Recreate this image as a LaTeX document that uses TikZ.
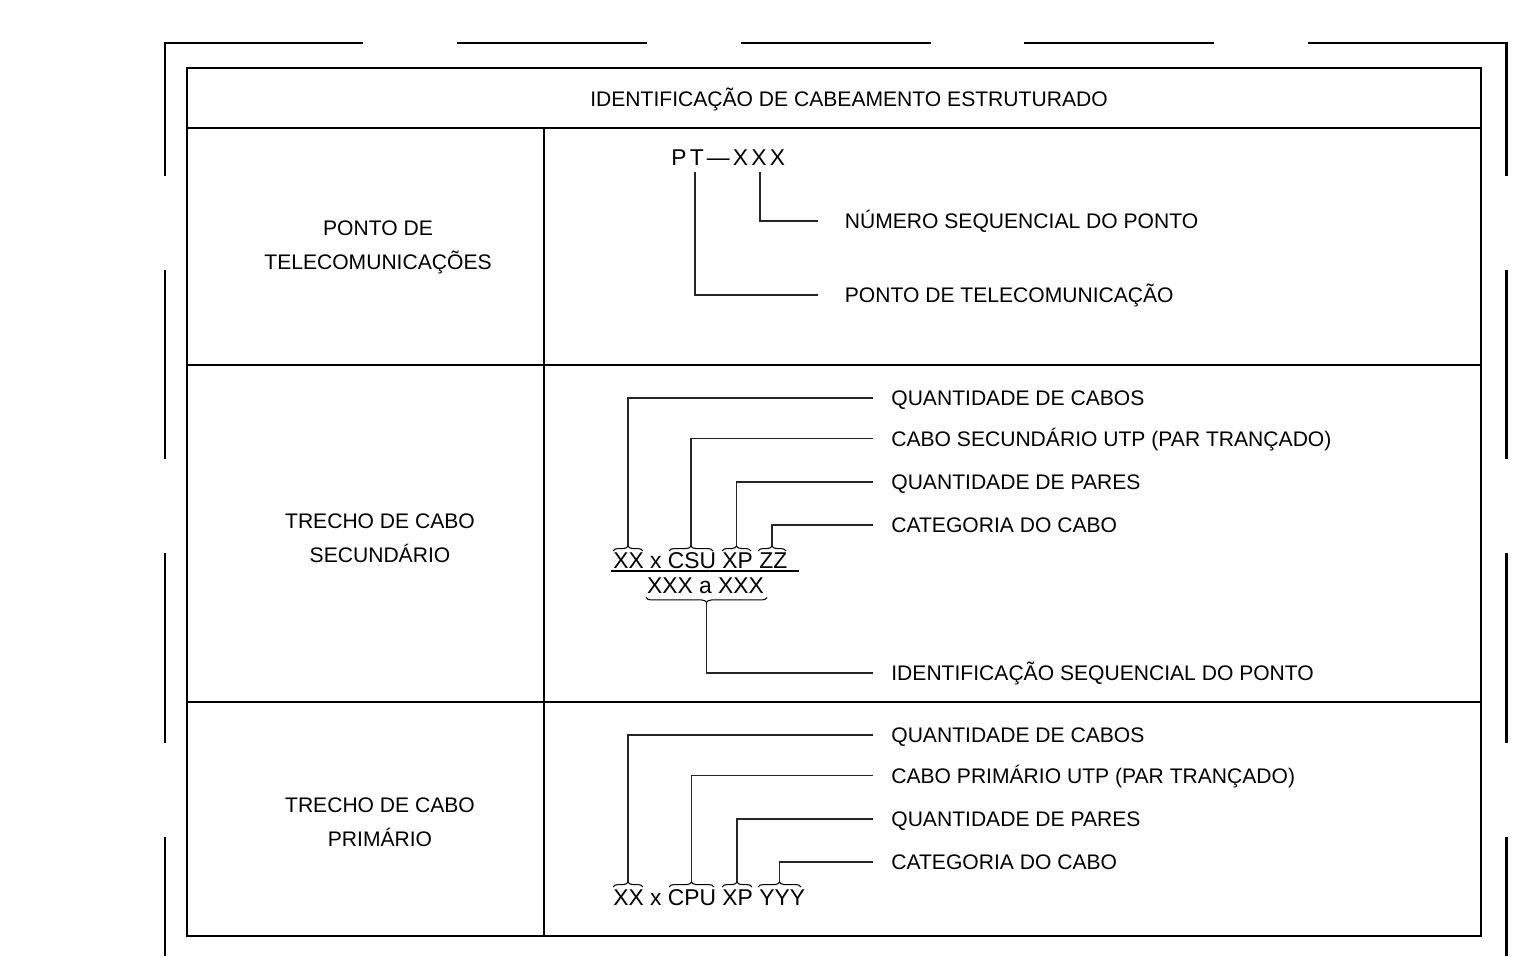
\documentclass[tikz,border=0pt]{standalone}
\usepackage{fontspec}
\setmainfont{Liberation Sans}
\newfontfamily\cadfont[LetterSpace=14]{Liberation Sans}
\usetikzlibrary{decorations.pathreplacing}

\begin{document}
\begin{tikzpicture}[x=0.02cm, y=-0.02cm,
border/.style={line width=1.7pt},
tab/.style={line width=1.1pt},
lead/.style={line width=0.6pt, black!85},
txt/.style={inner sep=0pt, text height=8.6pt, text depth=0pt, font=\fontsize{12}{14}\selectfont},
lbl/.style={txt, anchor=west, inner xsep=0.36cm},
lblpt/.style={txt, anchor=west, inner xsep=0.53cm},
codetxt/.style={inner sep=0pt, anchor=base west, font=\fontsize{13}{15}\selectfont},
grp/.style={decorate, decoration={brace, amplitude=2.8pt}, line width=0.6pt},
peak/.style={coordinate, yshift=2.8pt},
dip/.style={coordinate, yshift=-2.8pt}]
 \useasboundingbox (0,0) rectangle (1537,956);

 \draw[border] (165,176) -- (165,43) -- (363,43);
 \draw[border] (457,43) -- (647,43) (741,43) -- (931,43) (1024,43) -- (1214,43);
 \draw[border] (1308,43) -- (1506,43) -- (1506,176);
 \draw[border] (165,270) -- (165,459) (165,553) -- (165,743) (165,837) -- (165,956);
 \draw[border] (1506,270) -- (1506,459) (1506,553) -- (1506,743) (1506,837) -- (1506,956);

 \draw[tab] (187,68) rectangle (1481,936);
 \draw[tab] (187,128) -- (1481,128);
 \draw[tab] (187,365) -- (1481,365);
 \draw[tab] (187,702) -- (1481,702);
 \draw[tab] (544,128) -- (544,936);

 \node[txt] (title) at (849,99) {IDENTIFICAÇÃO DE CABEAMENTO ESTRUTURADO};

 \node[txt] (pt1) at (378,228) {PONTO DE};
 \node[txt, below of=pt1, node distance=0.68cm] (pt2) {TELECOMUNICAÇÕES};
 \node[txt] (sec1) at (380,521) {TRECHO DE CABO};
 \node[txt, below of=sec1, node distance=0.68cm] (sec2) {SECUNDÁRIO};
 \node[txt] (pri1) at (380,805) {TRECHO DE CABO};
 \node[txt, below of=pri1, node distance=0.68cm] (pri2) {PRIMÁRIO};

 \node[inner sep=0pt, anchor=base west, font=\fontsize{13}{15}\cadfont] (ptcode) at (671,166) {PT—XXX};
 \coordinate (ptP) at (695,172);
 \coordinate (ptX) at (760,172);
 \node[lblpt] (num) at (818,221) {NÚMERO SEQUENCIAL DO PONTO};
 \node[lblpt] (pto) at (818,295) {PONTO DE TELECOMUNICAÇÃO};
 \draw[lead] (ptX) |- (num);
 \draw[lead] (ptP) |- (pto);

 \node[codetxt] (csu) at (613,568) {XX x CSU XP ZZ};
 \draw[line width=1.1pt] (611,571) -- (799,571);
 \node[codetxt, anchor=base] (seq) at (705.5,593) {XXX a XXX};
 \draw[grp] (613,551) -- node[peak] (s1) {} (643,551);
 \draw[grp] (669,551) -- node[peak] (s2) {} (713,551);
 \draw[grp] (722,551) -- node[peak] (s3) {} (751,551);
 \draw[grp] (758,551) -- node[peak] (s4) {} (786,551);
 \draw[grp] (767,597.5) -- node[dip] (s5) {} (646,597.5);
 \node[lbl] (qc2) at (873,398) {QUANTIDADE DE CABOS};
 \node[lbl] (cs2) at (873,438.5) {CABO SECUNDÁRIO UTP (PAR TRANÇADO)};
 \node[lbl] (qp2) at (873,482) {QUANTIDADE DE PARES};
 \node[lbl] (cat2) at (873,525) {CATEGORIA DO CABO};
 \node[lbl] (id2) at (873,673) {IDENTIFICAÇÃO SEQUENCIAL DO PONTO};
 \draw[lead] (s1) |- (qc2);
 \draw[lead] (s2) |- (cs2);
 \draw[lead] (s3) |- (qp2);
 \draw[lead] (s4) |- (cat2);
 \draw[lead] (s5) |- (id2);

 \node[codetxt] (cpu) at (613,905) {XX x CPU XP YYY};
 \draw[grp] (613,887) -- node[peak] (p1) {} (643,887);
 \draw[grp] (669,887) -- node[peak] (p2) {} (714,887);
 \draw[grp] (722,887) -- node[peak] (p3) {} (752,887);
 \draw[grp] (758,887) -- node[peak] (p4) {} (801,887);
 \node[lbl] (qc3) at (873,735) {QUANTIDADE DE CABOS};
 \node[lbl] (cp3) at (873,775.5) {CABO PRIMÁRIO UTP (PAR TRANÇADO)};
 \node[lbl] (qp3) at (873,819) {QUANTIDADE DE PARES};
 \node[lbl] (cat3) at (873,862) {CATEGORIA DO CABO};
 \draw[lead] (p1) |- (qc3);
 \draw[lead] (p2) |- (cp3);
 \draw[lead] (p3) |- (qp3);
 \draw[lead] (p4) |- (cat3);
\end{tikzpicture}
\end{document}
